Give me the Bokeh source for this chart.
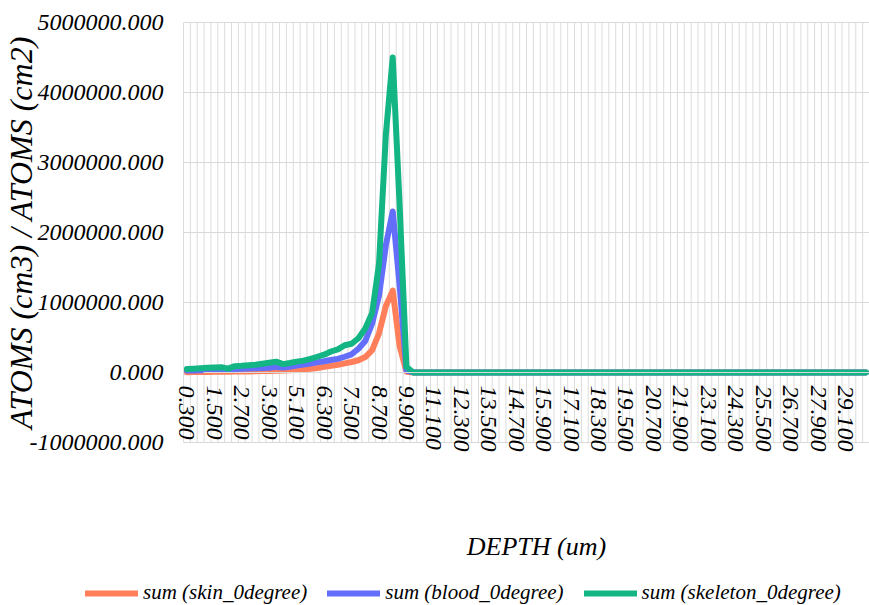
from bokeh.plotting import figure
from bokeh.models import Range1d, FixedTicker, PrintfTickFormatter, Legend, LegendItem
from bokeh.embed import file_html
from bokeh.resources import INLINE

# ---- data ----
depth = [0.3, 0.6, 0.9, 1.2, 1.5, 1.8, 2.1, 2.4, 2.7, 3.0,
         3.3, 3.6, 3.9, 4.2, 4.5, 4.8, 5.1, 5.4, 5.7, 6.0,
         6.3, 6.6, 6.9, 7.2, 7.5, 7.8, 8.1, 8.4, 8.7, 9.0,
         9.3, 9.6, 9.9, 10.2, 10.5, 10.8, 11.1, 11.4, 11.7, 12.0,
         12.3, 12.6, 12.9, 13.2, 13.5, 13.8, 14.1, 14.4, 14.7, 15.0,
         15.3, 15.6, 15.9, 16.2, 16.5, 16.8, 17.1, 17.4, 17.7, 18.0,
         18.3, 18.6, 18.9, 19.2, 19.5, 19.8, 20.1, 20.4, 20.7, 21.0,
         21.3, 21.6, 21.9, 22.2, 22.5, 22.8, 23.1, 23.4, 23.7, 24.0,
         24.3, 24.6, 24.9, 25.2, 25.5, 25.8, 26.1, 26.4, 26.7, 27.0,
         27.3, 27.6, 27.9, 28.2, 28.5, 28.8, 29.1, 29.4, 29.7, 30.0]

skin = [5e3, 6e3, 7e3, 8e3, 9e3, 1.0e4, 1.1e4, 1.3e4, 1.4e4, 1.6e4,
        1.8e4, 2.0e4, 2.2e4, 2.5e4, 2.7e4, 3.2e4, 3.8e4, 4.5e4, 5.5e4, 6.5e4,
        8.0e4, 9.5e4, 1.1e5, 1.3e5, 1.5e5, 1.75e5, 2.2e5, 3.2e5, 5.6e5, 9.5e5,
        1.17e6, 3.8e5, 1.0e4, 0, 0, 0, 0, 0, 0, 0,
        0, 0, 0, 0, 0, 0, 0, 0, 0, 0,
        0, 0, 0, 0, 0, 0, 0, 0, 0, 0,
        0, 0, 0, 0, 0, 0, 0, 0, 0, 0,
        0, 0, 0, 0, 0, 0, 0, 0, 0, 0,
        0, 0, 0, 0, 0, 0, 0, 0, 0, 0,
        0, 0, 0, 0, 0, 0, 0, 0, 0, 0]

blood = [2.8e4, 3.0e4, 3.3e4, 3.6e4, 4.0e4, 4.2e4, 3.8e4, 5.0e4, 5.3e4, 5.6e4,
         6.0e4, 6.3e4, 6.7e4, 8.0e4, 7.0e4, 8.2e4, 9.8e4, 1.15e5, 1.28e5, 1.45e5,
         1.6e5, 1.78e5, 1.95e5, 2.25e5, 2.6e5, 3.4e5, 4.5e5, 7.0e5, 1.1e6, 1.82e6,
         2.3e6, 1.25e6, 3.0e4, 0, 0, 0, 0, 0, 0, 0,
         0, 0, 0, 0, 0, 0, 0, 0, 0, 0,
         0, 0, 0, 0, 0, 0, 0, 0, 0, 0,
         0, 0, 0, 0, 0, 0, 0, 0, 0, 0,
         0, 0, 0, 0, 0, 0, 0, 0, 0, 0,
         0, 0, 0, 0, 0, 0, 0, 0, 0, 0,
         0, 0, 0, 0, 0, 0, 0, 0, 0, 0]

skeleton = [5.0e4, 5.5e4, 6.2e4, 6.8e4, 7.2e4, 7.5e4, 5.5e4, 9.0e4, 9.5e4, 1.05e5,
            1.12e5, 1.25e5, 1.4e5, 1.55e5, 1.2e5, 1.35e5, 1.55e5, 1.7e5, 1.95e5, 2.25e5,
            2.55e5, 3.0e5, 3.3e5, 3.9e5, 4.1e5, 4.9e5, 6.3e5, 8.5e5, 1.55e6, 3.4e6,
            4.5e6, 2.4e6, 8.0e4, 0, 0, 0, 0, 0, 0, 0,
            0, 0, 0, 0, 0, 0, 0, 0, 0, 0,
            0, 0, 0, 0, 0, 0, 0, 0, 0, 0,
            0, 0, 0, 0, 0, 0, 0, 0, 0, 0,
            0, 0, 0, 0, 0, 0, 0, 0, 0, 0,
            0, 0, 0, 0, 0, 0, 0, 0, 0, 0,
            0, 0, 0, 0, 0, 0, 0, 0, 0, 0]

y_ticks = [-1000000, 0, 1000000, 2000000, 3000000, 4000000, 5000000]
series_names = ["sum (skin_0degree)", "sum (blood_0degree)", "sum (skeleton_0degree)"]
colors = ["#FF7F5B", "#636EFA", "#13B584"]

# ---- layout (pixels) ----
W, H = 869, 605
n = len(depth)
idx = list(range(n))
FONT = "Liberation Serif"
Y_MIN, Y_MAX = y_ticks[0], y_ticks[-1]
X_LO, X_HI = -0.5, n - 0.5

GRID_LEFT, GRID_RIGHT = 183.0, 869.0     # px of the gridded area
GRID_TOP, GRID_BOTTOM = 22.0, 442.0
cat_px = (GRID_RIGHT - GRID_LEFT) / (X_HI - X_LO)
val_px = (GRID_BOTTOM - GRID_TOP) / (Y_MAX - Y_MIN)
x_start = X_LO - GRID_LEFT / cat_px
x_end = X_HI + (W - GRID_RIGHT) / cat_px
y_end = Y_MAX + GRID_TOP / val_px
y_start = Y_MIN - (H - GRID_BOTTOM) / val_px

# the frame covers the whole canvas; axes are pinned inside it
p = figure(width=W, height=H, output_backend="svg", toolbar_location=None,
           x_range=Range1d(x_start, x_end), y_range=Range1d(y_start, y_end),
           min_border=0, min_border_left=0, min_border_right=0,
           min_border_top=0, min_border_bottom=0)
p.outline_line_color = None
p.background_fill_color = "white"
p.border_fill_color = "white"
p.xgrid.visible = False
p.ygrid.visible = False

# gridlines, limited to the plot area
bounds = [k - 0.5 for k in range(n + 1)]
p.segment(x0=bounds, y0=[Y_MIN] * len(bounds), x1=bounds, y1=[Y_MAX] * len(bounds),
          line_color="#dcdcdc", line_width=1)
p.segment(x0=[X_LO] * len(y_ticks), y0=y_ticks, x1=[X_HI] * len(y_ticks), y1=y_ticks,
          line_color="#d9d9d9", line_width=1)

# y axis pinned at the left edge of the plot area
ya = p.yaxis[0]
ya.fixed_location = X_LO
ya.bounds = (Y_MIN, Y_MAX)
ya.ticker = FixedTicker(ticks=y_ticks)
ya.formatter = PrintfTickFormatter(format="%.3f")
ya.axis_line_color = None
ya.major_tick_line_color = None
ya.minor_tick_line_color = None
ya.major_tick_out = 0
ya.major_label_standoff = 20
ya.major_label_text_font = FONT
ya.major_label_text_font_style = "italic"
ya.major_label_text_font_size = "24px"
ya.major_label_text_color = "black"
ya.axis_label = "ATOMS (cm3) / ATOMS (cm2)"
ya.axis_label_text_font = FONT
ya.axis_label_text_font_style = "italic"
ya.axis_label_text_font_size = "32px"
ya.axis_label_text_color = "black"
ya.axis_label_standoff = -12

# category axis crossing at y = 0
label_idx = list(range(0, n, 4))
overrides = {i: "%.3f" % depth[i] for i in label_idx}
xa = p.xaxis[0]
xa.fixed_location = 0
xa.bounds = (X_LO + 2.9, X_HI)      # shifts the centred axis title slightly right
xa.ticker = FixedTicker(ticks=label_idx)
xa.major_label_overrides = overrides
xa.major_label_orientation = "vertical"
xa.axis_line_color = "#d9d9d9"
xa.major_tick_line_color = None
xa.minor_tick_line_color = None
xa.major_tick_out = 0
xa.major_label_standoff = 13
xa.major_label_text_font = FONT
xa.major_label_text_font_style = "italic"
xa.major_label_text_font_size = "24px"
xa.major_label_text_color = "black"
xa.axis_label = "DEPTH (um)"
xa.axis_label_text_font = FONT
xa.axis_label_text_font_style = "italic"
xa.axis_label_text_font_size = "26px"
xa.axis_label_text_color = "black"
xa.axis_label_standoff = 77

# lines
renderers = []
for vals, c in zip([skin, blood, skeleton], colors):
    r = p.line(idx, vals, line_width=6, line_color=c, line_cap="round", line_join="round")
    renderers.append(r)

legend = Legend(items=[LegendItem(label=nm, renderers=[r]) for nm, r in zip(series_names, renderers)],
                orientation="horizontal", location=(85, 0),
                label_text_font=FONT, label_text_font_style="italic", label_text_font_size="21px",
                label_text_color="black", glyph_width=53, glyph_height=20, label_standoff=5,
                spacing=20, padding=0, margin=0, border_line_color=None, background_fill_alpha=0)
p.add_layout(legend)

open("out.html", "w").write(file_html(p, INLINE))
